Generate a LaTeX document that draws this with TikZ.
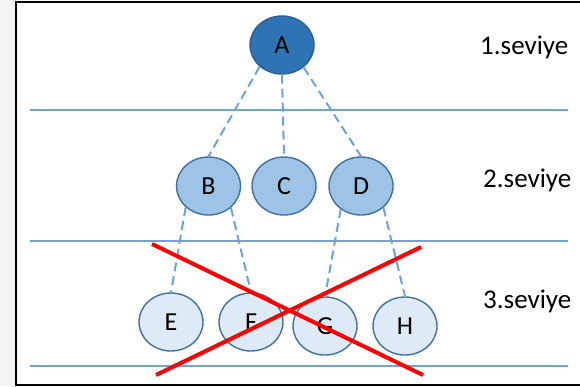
\documentclass[tikz,border=0pt]{standalone}
\usepackage{fontspec}
\setmainfont{Carlito}
\usetikzlibrary{shapes.geometric}
\definecolor{rootblue}{HTML}{2E74B5}
\definecolor{rootedge}{HTML}{2A5F91}
\definecolor{midblue}{HTML}{9DC3E6}
\definecolor{leafblue}{HTML}{DEEBF7}
\definecolor{edgeblue}{HTML}{41719C}
\definecolor{lineblue}{HTML}{6FA3D8}
\definecolor{hatchgray}{HTML}{F5F5F5}

\begin{document}
\begin{tikzpicture}[x=1pt,y=-1pt,
    ball/.style={ellipse, draw=edgeblue, line width=1.4pt,
      minimum width=64pt, minimum height=58pt, inner sep=0pt,
      font=\fontsize{26}{26}\selectfont},
    root/.style={ball, fill=rootblue, draw=rootedge},
    mid/.style={ball, fill=midblue},
    leaf/.style={ball, fill=leafblue},
    link/.style={draw=lineblue, line width=2pt, dash pattern=on 9pt off 5pt},
    sep/.style={draw=lineblue, line width=2pt},
    tag/.style={anchor=base west, inner sep=0pt,
      font=\fontsize{27}{27}\selectfont}]
  \useasboundingbox (0,0) rectangle (580,386);
  \fill[hatchgray] (0,0) rectangle (15,386);
  \draw[line width=2.2pt] (590,2) -- (16,2) -- (16,385) -- (590,385);

  % level separators
  \foreach \y in {110,241,366}
    \draw[sep] (30,\y) -- (568,\y);

  % tree
  \node[root] (A) at (282,45) {A};
  \node[mid]  (B) at (208.5,186) {B};
  \node[mid]  (C) at (284,186) {C};
  \node[mid]  (D) at (361,186) {D};
  \node[leaf] (E) at (171,322) {E};
  \node[leaf] (F) at (251,322) {F};
  \node[leaf] (G) at (325,326) {G};
  \node[leaf] (H) at (405,326) {H};

  \draw[link] (A.224) -- (B.north);
  \draw[link] (A.south) -- (C.north);
  \draw[link] (A.314) -- (D.north);
  \draw[link] (B.223) -- (E.north);
  \draw[link] (B.316) -- (F.north);
  \draw[link] (D.229) -- (G.north);
  \draw[link] (D.316) -- (H.north);

  \node[tag] (lvl1) at (480,54.3) {1.seviye};
  \node[tag] (lvl2) at (483,187.7) {2.seviye};
  \node[tag] (lvl3) at (483,308.3) {3.seviye};

  % crossed out
  \draw[red, line width=4pt] (152,244) -- (423,375);
  \draw[red, line width=4pt] (421,247) -- (156,375);
\end{tikzpicture}
\end{document}
